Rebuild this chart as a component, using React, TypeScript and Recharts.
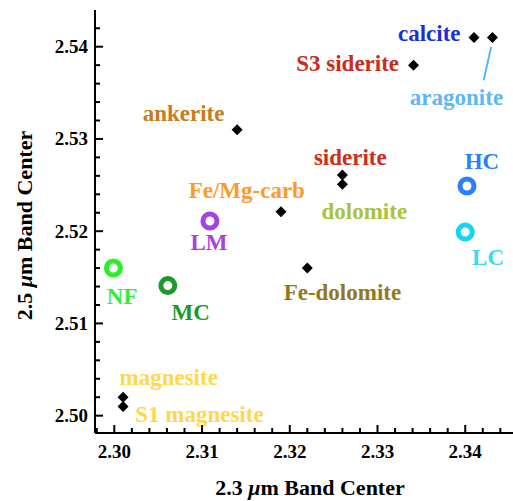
import { ScatterChart, Scatter, XAxis, YAxis, ReferenceLine } from "recharts";

// lab spectra of carbonate minerals (black diamonds)
const minerals = [
  { name: "calcite", x: 2.341, y: 2.541 },
  { name: "aragonite", x: 2.3431, y: 2.541 },
  { name: "S3 siderite", x: 2.3341, y: 2.538 },
  { name: "ankerite", x: 2.314, y: 2.531 },
  { name: "siderite", x: 2.326, y: 2.5261 },
  { name: "dolomite", x: 2.326, y: 2.5251 },
  { name: "Fe/Mg-carb", x: 2.319, y: 2.5221 },
  { name: "Fe-dolomite", x: 2.322, y: 2.516 },
  { name: "magnesite", x: 2.301, y: 2.502 },
  { name: "S1 magnesite", x: 2.301, y: 2.501 },
];

// units (open rings)
const units = [
  { name: "HC", x: 2.3402, y: 2.5249, color: "#2b7fff" },
  { name: "LC", x: 2.34, y: 2.5199, color: "#10d6f6" },
  { name: "LM", x: 2.3109, y: 2.5211, color: "#a443e0" },
  { name: "NF", x: 2.2999, y: 2.516, color: "#2bef2b" },
  { name: "MC", x: 2.3061, y: 2.5141, color: "#1b9a2a" },
];

// text annotations, placed in data coordinates
const labels = [
  { text: "calcite", x: 2.3359, y: 2.5414, color: "#1b2fd8" },
  { text: "S3 siderite", x: 2.3266, y: 2.5382, color: "#cc2a1a" },
  { text: "aragonite", x: 2.339, y: 2.5345, color: "#5cb8f5" },
  { text: "ankerite", x: 2.3079, y: 2.5328, color: "#cc7a1a" },
  { text: "Fe/Mg-carb", x: 2.3151, y: 2.5244, color: "#ff9a2a" },
  { text: "LM", x: 2.3108, y: 2.5188, color: "#a443e0" },
  { text: "siderite", x: 2.3269, y: 2.528, color: "#d42a1a" },
  { text: "dolomite", x: 2.3285, y: 2.5221, color: "#a8c43a" },
  { text: "HC", x: 2.3419, y: 2.5276, color: "#2b7fff" },
  { text: "LC", x: 2.3426, y: 2.5171, color: "#33ddf7" },
  { text: "Fe-dolomite", x: 2.326, y: 2.5133, color: "#8f7a1e" },
  { text: "NF", x: 2.3009, y: 2.5129, color: "#33ee33" },
  { text: "MC", x: 2.3087, y: 2.5112, color: "#1b9a2a" },
  { text: "magnesite", x: 2.3062, y: 2.5041, color: "#ffd84a" },
  { text: "S1 magnesite", x: 2.3097, y: 2.5001, color: "#ffd84a" },
];

const aragoniteLeader = [
  { x: 2.34295, y: 2.53996 },
  { x: 2.3421, y: 2.53636 },
];

const xTicks = [
  2.298, 2.3, 2.302, 2.304, 2.306, 2.308, 2.31, 2.312, 2.314, 2.316, 2.318, 2.32, 2.322,
  2.324, 2.326, 2.328, 2.33, 2.332, 2.334, 2.336, 2.338, 2.34, 2.342, 2.344,
];
const yTicks = [
  2.5, 2.502, 2.504, 2.506, 2.508, 2.51, 2.512, 2.514, 2.516, 2.518, 2.52, 2.522, 2.524,
  2.526, 2.528, 2.53, 2.532, 2.534, 2.536, 2.538, 2.54, 2.542,
];

const xDomain = [2.2978, 2.3459];
const yDomain = [2.49812, 2.54398];

const FONT = "'Liberation Serif', 'Times New Roman', serif";
const isMajor = (v: number) => Math.abs(v * 100 - Math.round(v * 100)) < 1e-6;

const tickLen = (v: number) => (isMajor(v) ? 8 : 5);

const BottomTick = ({ x, y, payload }: any) => (
  <g>
    <line x1={x} x2={x} y1={y} y2={y - tickLen(payload.value)} stroke="#000" strokeWidth={2} />
    {isMajor(payload.value) && (
      <text x={x} y={y + 25} textAnchor="middle" fontFamily={FONT} fontWeight="bold" fontSize={19} fill="#000">
        {payload.value.toFixed(2)}
      </text>
    )}
  </g>
);

const TopTick = ({ x, y, payload }: any) => (
  <line x1={x} x2={x} y1={y} y2={y + tickLen(payload.value)} stroke="#000" strokeWidth={2} />
);

const LeftTick = ({ x, y, payload }: any) => (
  <g>
    <line x1={x} x2={x + tickLen(payload.value)} y1={y} y2={y} stroke="#000" strokeWidth={2} />
    {isMajor(payload.value) && (
      <text x={x - 7} y={y + 6.5} textAnchor="end" fontFamily={FONT} fontWeight="bold" fontSize={19} fill="#000">
        {payload.value.toFixed(2)}
      </text>
    )}
  </g>
);

const RightTick = ({ x, y, payload }: any) => (
  <line x1={x} x2={x - tickLen(payload.value)} y1={y} y2={y} stroke="#000" strokeWidth={2} />
);

const Diamond = ({ cx, cy }: any) => (
  <polygon points={`${cx},${cy - 5.5} ${cx + 5.5},${cy} ${cx},${cy + 5.5} ${cx - 5.5},${cy}`} fill="#000" />
);

const Ring = ({ cx, cy, payload }: any) => (
  <circle cx={cx} cy={cy} r={7} fill="none" stroke={payload.color} strokeWidth={5} />
);

const LabelText = ({ cx, cy, payload }: any) => (
  <text
    x={cx}
    y={cy}
    textAnchor="middle"
    dominantBaseline="central"
    fontFamily={FONT}
    fontWeight="bold"
    fontSize={23}
    fill={payload.color}
  >
    {payload.text}
  </text>
);

const XTitle = ({ viewBox }: any) => (
  <text x={viewBox.x + viewBox.width / 2 + 4} y={495} textAnchor="middle" fontFamily={FONT} fontWeight="bold" fontSize={22} fill="#000">
    2.3 <tspan fontStyle="italic">μ</tspan>m Band Center
  </text>
);

const YTitle = ({ viewBox }: any) => {
  const cx = 32;
  const cy = viewBox.y + viewBox.height / 2 + 4;
  return (
    <text
      x={cx}
      y={cy}
      transform={`rotate(-90 ${cx} ${cy})`}
      textAnchor="middle"
      fontFamily={FONT}
      fontWeight="bold"
      fontSize={22}
      fill="#000"
    >
      2.5 <tspan fontStyle="italic">μ</tspan>m Band Center
    </text>
  );
};

export default function App() {
  return (
    <div style={{ position: "absolute", left: 0, top: 0, width: 513, height: 501, overflow: "hidden", background: "#fff" }}>
      <ScatterChart width={520} height={501} margin={{ top: 10, right: 3, bottom: 0, left: 0 }}>
        <XAxis
          type="number"
          dataKey="x"
          domain={xDomain}
          allowDataOverflow
          ticks={xTicks}
          interval={0}
          height={68}
          tickSize={0}
          tickMargin={0}
          tickLine={false}
          axisLine={{ stroke: "#000", strokeWidth: 2 }}
          tick={<BottomTick />}
          label={<XTitle />}
        />
        <XAxis
          xAxisId="top"
          orientation="top"
          type="number"
          dataKey="x"
          domain={xDomain}
          allowDataOverflow
          ticks={xTicks}
          interval={0}
          height={0}
          tickSize={0}
          tickMargin={0}
          tickLine={false}
          axisLine={{ stroke: "#000", strokeWidth: 2 }}
          tick={<TopTick />}
        />
        <YAxis
          type="number"
          dataKey="y"
          domain={yDomain}
          allowDataOverflow
          ticks={yTicks}
          interval={0}
          width={95}
          tickSize={0}
          tickMargin={0}
          tickLine={false}
          axisLine={{ stroke: "#000", strokeWidth: 2 }}
          tick={<LeftTick />}
          label={<YTitle />}
        />
        <YAxis
          yAxisId="right"
          orientation="right"
          type="number"
          dataKey="y"
          domain={yDomain}
          allowDataOverflow
          ticks={yTicks}
          interval={0}
          width={0}
          tickSize={0}
          tickMargin={0}
          tickLine={false}
          axisLine={{ stroke: "#000", strokeWidth: 2 }}
          tick={<RightTick />}
        />
        <ReferenceLine segment={aragoniteLeader} stroke="#5cb8f5" strokeWidth={2} ifOverflow="visible" />
        <Scatter data={minerals} shape={<Diamond />} isAnimationActive={false} />
        <Scatter data={units} shape={<Ring />} isAnimationActive={false} />
        <Scatter data={labels} shape={<LabelText />} isAnimationActive={false} />
      </ScatterChart>
    </div>
  );
}
